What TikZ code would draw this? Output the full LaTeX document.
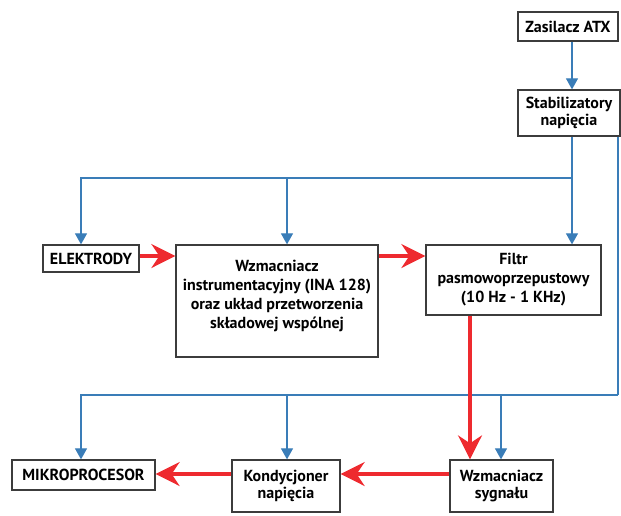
\documentclass[tikz,border=0pt]{standalone}
\usepackage{fontspec}
\setmainfont{PT Sans}
\usetikzlibrary{arrows.meta}
\definecolor{lnblue}{HTML}{3A7DB8}
\definecolor{lnred}{HTML}{EE2A2F}
\definecolor{boxgray}{HTML}{3C3C3C}
\tikzset{
  blk/.style={draw=boxgray, line width=1.3pt, fill=white, align=center, inner sep=0pt,
    font=\bfseries\fontsize{16}{17.5}\selectfont},
  bl/.style={draw=lnblue, line width=1.2pt, -{Triangle[length=11pt,width=12pt]}},
  blp/.style={draw=lnblue, line width=1.2pt},
  rd/.style={draw=lnred, line width=3.2pt, -{Stealth[length=24pt,width=24pt,inset=8pt]}},
}
\begin{document}
\begin{tikzpicture}[x=1pt,y=-1pt]
\useasboundingbox (0,0) rectangle (621,515);
% boxes
\node[blk, minimum width=100pt, minimum height=29pt] (atx) at (568,26.5) {Zasilacz ATX};
\node[blk, minimum width=102pt, minimum height=46pt] (stab) at (569,113) {Stabilizatory\\napięcia};
\node[blk, minimum width=96pt, minimum height=27pt] (elek) at (91,258.5) {ELEKTRODY};
\node[blk, minimum width=202pt, minimum height=112pt] (wzm) at (277,301) {};
\node[font=\bfseries\fontsize{16}{19}\selectfont, align=center, inner sep=0pt] (wzmtxt) at (277,296) {Wzmacniacz\\instrumentacyjny (INA 128)\\oraz układ przetworzenia\\składowej wspólnej};
\node[blk, minimum width=175pt, minimum height=70pt, font=\bfseries\fontsize{16}{19}\selectfont] (filtr) at (513.5,280) {Filtr\\pasmowoprzepustowy\\(10 Hz - 1 KHz)};
\node[blk, minimum width=143pt, minimum height=30pt] (mikro) at (83.5,475) {MIKROPROCESOR};
\node[blk, minimum width=108pt, minimum height=52pt] (kond) at (286,486) {Kondycjoner\\napięcia};
\node[blk, minimum width=103pt, minimum height=52pt] (wsyg) at (501.5,486) {Wzmacniacz\\sygnału};
% helper coordinates
\coordinate (xa) at (572,0);
\coordinate (xb) at (618,0);
\coordinate (xe) at (81,0);
\coordinate (xw) at (287,0);
\coordinate (xk) at (287,0);
\coordinate (xs) at (501,0);
\coordinate (xr) at (470,0);
\coordinate (y1) at (0,178);
\coordinate (y2) at (0,395);
\coordinate (yr1) at (0,256);
\coordinate (yr2) at (0,474);
\coordinate (j1) at (572,178);
\coordinate (j2) at (618,395);
% blue supply lines
\draw[bl] (atx.south -| xa) -- (stab.north -| xa);
\draw[bl] (stab.south -| xa) -- (filtr.north -| xa);
\draw[bl] (j1) -| (elek.north -| xe);
\draw[bl] (y1 -| xw) -- (wzm.north -| xw);
\draw[blp] (stab.south -| xb) -- (j2);
\draw[bl] (j2) -| (mikro.north -| xe);
\draw[bl] (y2 -| xk) -- (kond.north -| xk);
\draw[bl] (y2 -| xs) -- (wsyg.north -| xs);
% red signal path
\draw[rd] (elek.east |- yr1) -- (wzm.west |- yr1);
\draw[rd] (wzm.east |- yr1) -- (filtr.west |- yr1);
\draw[rd] (filtr.south -| xr) -- (wsyg.north -| xr);
\draw[rd] (wsyg.west |- yr2) -- (kond.east |- yr2);
\draw[rd] (kond.west |- yr2) -- (mikro.east |- yr2);
\end{tikzpicture}
\end{document}
